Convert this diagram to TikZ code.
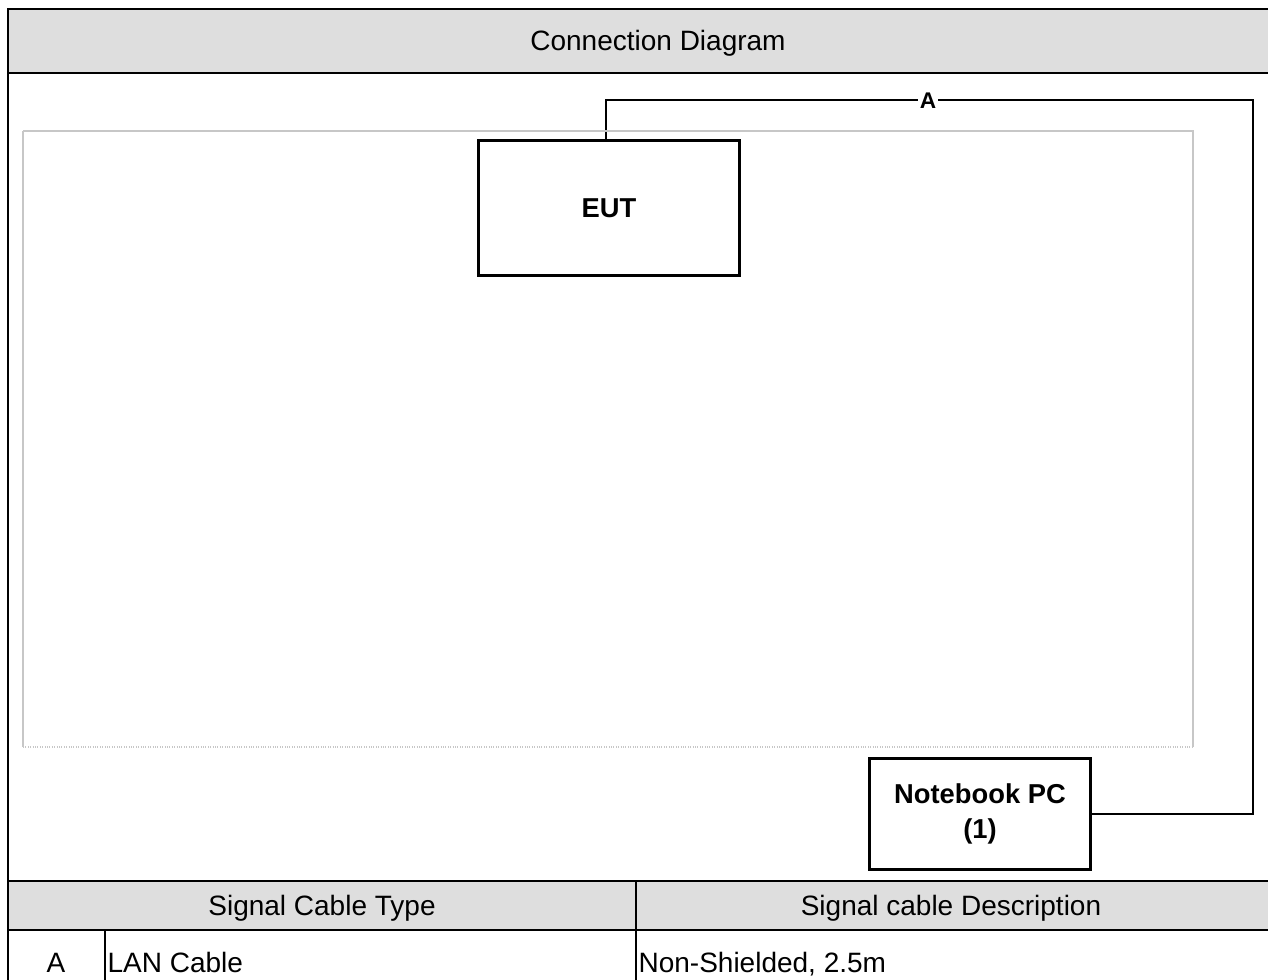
\documentclass[tikz,border=0pt]{standalone}
\usepackage{fontspec}
\setmainfont{Liberation Sans}
\usetikzlibrary{calc}
\tikzset{every node/.style={font=\fontsize{21}{25}\selectfont}}
\tikzset{
  rule/.style={line width=1.9pt, line cap=rect},
  devbox/.style={draw, line width=2.5pt, fill=white, align=center,
    inner sep=0pt, font=\fontsize{20.5}{26}\selectfont\bfseries},
  cable/.style={line width=1.7pt},
  cablelabel/.style={fill=white, inner sep=1.5pt,
    font=\fontsize{17}{19}\selectfont\bfseries},
  celltext/.style={anchor=base, inner sep=1pt},
}

\begin{document}
\begin{tikzpicture}[x=0.75pt, y=-0.75pt]
  % Bounding box fixe (taille de l'image)
  \path[use as bounding box] (0,0) rectangle (1268,980);

  \colorlet{headcol}{black!13}
  \colorlet{areacol}{black!22}

  % Gray bands: title and table header.
  \fill[headcol] (8,9) rectangle (1272,73);
  \fill[headcol] (8,881) rectangle (1272,930);

  % Frame and table rules.
  \draw[rule] (1272,9) -- (8,9) -- (8,990);
  \draw[rule] (8,73) -- (1272,73);
  \draw[rule] (8,881) -- (1272,881);
  \draw[rule] (8,930) -- (1272,930);
  \draw[rule] (636,881) -- (636,990);
  \draw[rule] (105,930) -- (105,990);

  % Texts of the bands.
  \node[anchor=base] (title) at (658,51) {Connection Diagram};
  \node[celltext] (typehead) at (322,915) {Signal Cable Type};
  \node[celltext] (deschead) at (951,915) {Signal cable Description};
  \node[celltext] (cableid) at (56,972) {A};
  \node[celltext, anchor=base west] (cabletype) at (106,972) {LAN Cable};
  \node[celltext, anchor=base west] (cabledesc) at (637,972) {Non-Shielded, 2.5m};

  % Test area.
  \draw[areacol, line width=0.8pt] (23,131) -- (1193,131) -- (1193,747);
  \draw[areacol, line width=0.8pt] (23,131) -- (23,747);
  \draw[areacol, line width=0.8pt, densely dotted] (23,747) -- (1193,747);

  % Devices.
  \node[devbox, minimum width=196pt, minimum height=101pt] (eut) at (609,208) {EUT};
  \node[devbox, minimum width=166pt, minimum height=83pt] (nb) at (980,814)
    {Notebook PC\\(1)};

  % Cable A.
  \coordinate (bendR) at (1253,100);
  \draw[cable] (nb.east) -| (bendR) -| ($(eut.north)+(-3,0)$);
  \node[cablelabel] (labelA) at (928,101) {A};

  % Redraw area edge over the cable.
  \draw[areacol, line width=0.8pt] (23,131) -- (1193,131);
\end{tikzpicture}
\end{document}
